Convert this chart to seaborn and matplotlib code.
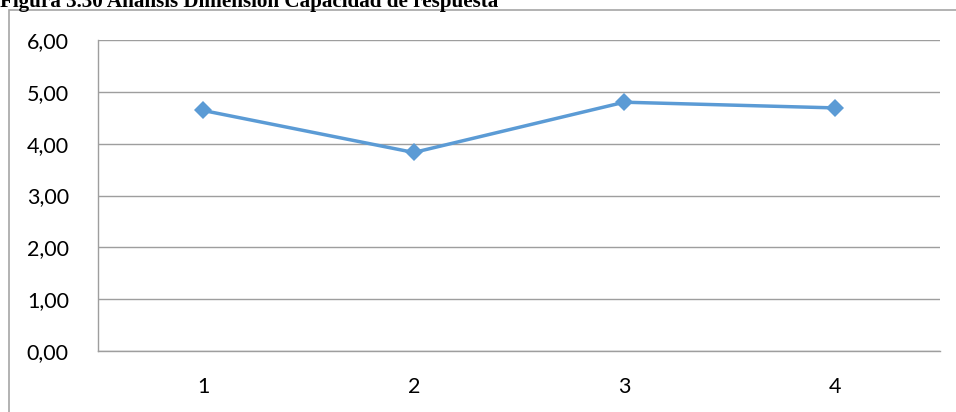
import matplotlib
matplotlib.use("Agg")
import matplotlib.pyplot as plt
from matplotlib.patches import Rectangle
from matplotlib.ticker import FixedLocator, FuncFormatter
import numpy as np
import pandas as pd
import seaborn as sns

# Valores promedio por pregunta de la dimensión
categorias = ["1", "2", "3", "4"]
valores = [4.64, 3.83, 4.80, 4.69]
y_ticks = [0, 1, 2, 3, 4, 5, 6]

titulo = "Figura 3.30 Análisis Dimensión Capacidad de respuesta"

sns.set_theme(style="white")
plt.rcParams["font.family"] = ["Lato", "DejaVu Sans"]

W, H, DPI = 956, 412, 100
fig = plt.figure(figsize=(W / DPI, H / DPI), dpi=DPI)
fig.patch.set_facecolor("white")

# plot area in pixels
left, right, top, bottom = 98, 940, 40, 351
ax = fig.add_axes([left / W, 1 - bottom / H, (right - left) / W, (bottom - top) / H])

df = pd.DataFrame({"pos": np.arange(len(categorias)), "valor": valores})
sns.lineplot(data=df, x="pos", y="valor", ax=ax, color="#5B9BD5", linewidth=2.5,
             marker="D", markersize=9, markeredgewidth=0, zorder=3)

grid_c = "#9E9E9E"
ax.set_xlim(-0.5, len(categorias) - 0.5)
ax.set_ylim(0, 6)
ax.set_yticks(y_ticks)
ax.yaxis.set_major_formatter(FuncFormatter(lambda v, p: f"{v:.2f}".replace(".", ",")))
ax.grid(axis="y", color=grid_c, linewidth=1.0)
ax.set_axisbelow(True)

# category boundaries as major ticks, labels centred on minor ticks
ax.xaxis.set_major_locator(FixedLocator(np.arange(-0.5, len(categorias), 1.0)))
ax.xaxis.set_minor_locator(FixedLocator(np.arange(len(categorias))))
ax.xaxis.set_major_formatter(FuncFormatter(lambda v, p: ""))
ax.xaxis.set_minor_formatter(FuncFormatter(lambda v, p: categorias[int(round(v))]))
ax.tick_params(axis="x", which="major", length=7, width=1, color=grid_c, direction="out")
ax.tick_params(axis="x", which="minor", length=0, pad=19, labelsize=15.5, labelcolor="black")
ax.tick_params(axis="y", length=7, width=1, color=grid_c, direction="out", pad=14,
               labelsize=15.5, labelcolor="black")
ax.set_xlabel("")
ax.set_ylabel("")

for side in ["top", "right"]:
    ax.spines[side].set_visible(False)
for side in ["left", "bottom"]:
    ax.spines[side].set_color(grid_c)
    ax.spines[side].set_linewidth(1.0)

# chart area frame
fig.patches.append(Rectangle((9 / W, -0.1), 1.1, 1 - 10 / H + 0.1, transform=fig.transFigure,
                             fill=False, edgecolor="#A6A6A6", linewidth=1.2, zorder=0))

fig.text(0, 1 - 7 / H, titulo, family=["Liberation Serif"], fontweight="bold",
         fontsize=15.2, ha="left", va="baseline", color="black")

fig.savefig("out.png", dpi=DPI)
